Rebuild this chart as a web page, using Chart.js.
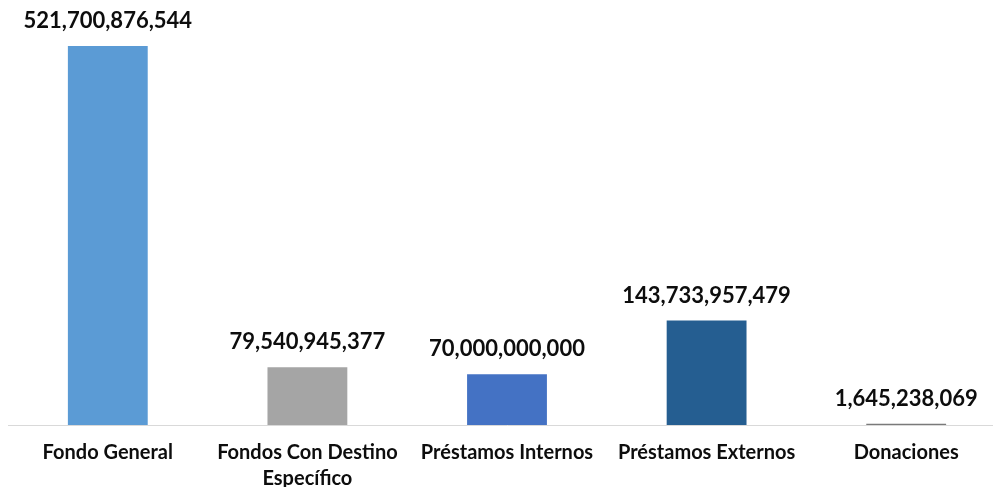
<!DOCTYPE html>
<html>
<head>
<meta charset="utf-8">
<script src="https://cdn.jsdelivr.net/npm/chart.js@4"></script>
<style>
  html, body { margin: 0; padding: 0; background: #fff; overflow: hidden; }
  #wrap { width: 1006px; height: 487px; position: relative; }
</style>
</head>
<body>
<div id="wrap"><canvas id="chart"></canvas></div>
<script>
const categories = [
  "Fondo General",
  ["Fondos Con Destino", "Específico"],
  "Préstamos Internos",
  "Préstamos Externos",
  "Donaciones"
];
const amounts = [521700876544, 79540945377, 70000000000, 143733957479, 1645238069];
const barColors = ["#5b9bd5", "#a5a5a5", "#4472c4", "#255e91", "#7a7a7a"];

const fontFamily = "Lato, 'Open Sans', sans-serif";

// draws the value above each bar
const valueLabels = {
  id: "valueLabels",
  afterDatasetsDraw(chart) {
    const ctx = chart.ctx;
    const meta = chart.getDatasetMeta(0);
    ctx.save();
    ctx.font = "bold 22px " + fontFamily;
    ctx.fillStyle = "#0d0d0d";
    ctx.textAlign = "center";
    ctx.textBaseline = "middle";
    meta.data.forEach((bar, i) => {
      ctx.fillText(amounts[i].toLocaleString("en-US"), bar.x, bar.y - 25);
    });
    ctx.restore();
  }
};

new Chart(document.getElementById("chart"), {
  type: "bar",
  data: {
    labels: categories,
    datasets: [{
      data: amounts,
      backgroundColor: barColors,
      barPercentage: 0.4,
      categoryPercentage: 1
    }]
  },
  options: {
    responsive: true,
    maintainAspectRatio: false,
    animation: false,
    layout: { padding: { left: 8, right: 0, top: 0, bottom: 0 } },
    plugins: {
      legend: { display: false },
      tooltip: { enabled: false }
    },
    scales: {
      x: {
        grid: { display: false },
        border: { display: true, color: "#d9d9d9", width: 1 },
        ticks: {
          color: "#0d0d0d",
          font: { family: fontFamily, size: 20, weight: "bold", lineHeight: 1.3 },
          padding: 7,
          maxRotation: 0,
          autoSkip: false
        },
        afterFit(scale) { scale.height = 62; }
      },
      y: {
        display: false,
        min: 0,
        max: 585000000000
      }
    }
  },
  plugins: [valueLabels]
});
</script>
</body>
</html>
